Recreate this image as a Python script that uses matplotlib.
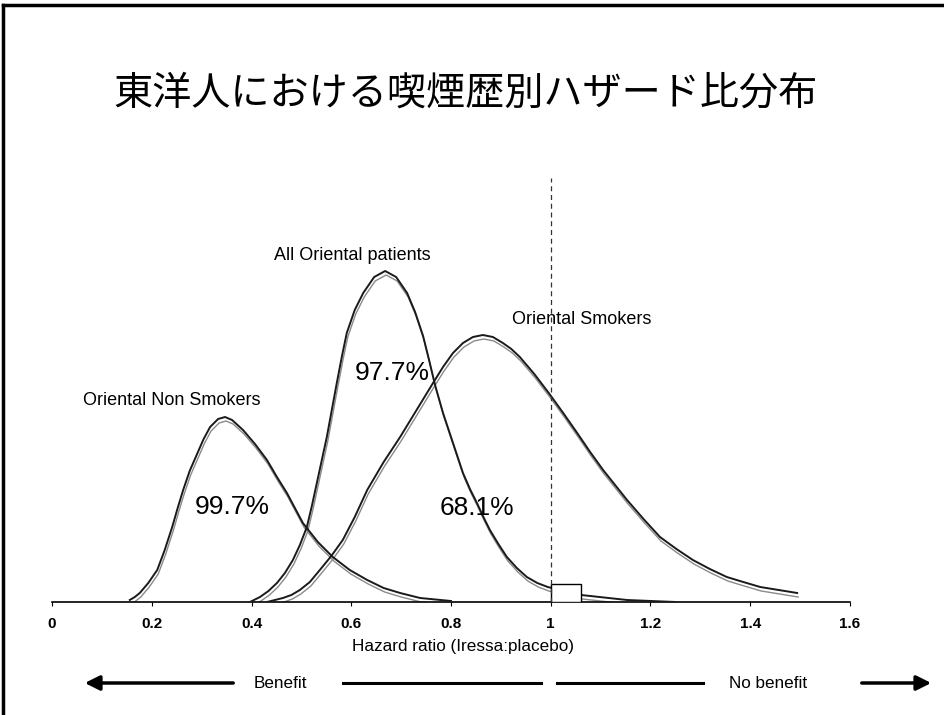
import matplotlib
matplotlib.use('Agg')
import matplotlib.pyplot as plt
import numpy as np
from matplotlib.transforms import offset_copy
from matplotlib.lines import Line2D
from matplotlib.patches import Rectangle

plt.rcParams['font.family'] = ['Liberation Sans', 'Noto Sans CJK JP', 'DejaVu Sans']

# data (x = hazard ratio, y = relative density)
non_x = [0.156, 0.166, 0.176, 0.193, 0.211, 0.226, 0.241, 0.252, 0.263, 0.276, 0.290,
         0.304, 0.317, 0.333, 0.347, 0.361, 0.383, 0.407, 0.431, 0.451, 0.471, 0.487,
         0.503, 0.533, 0.563, 0.597, 0.632, 0.665, 0.698, 0.738, 0.80]
non_y = [0.02, 0.05, 0.09, 0.19, 0.32, 0.52, 0.75, 0.94, 1.12, 1.31, 1.47,
         1.63, 1.75, 1.83, 1.85, 1.82, 1.72, 1.58, 1.42, 1.25, 1.09, 0.94,
         0.79, 0.60, 0.45, 0.32, 0.22, 0.14, 0.09, 0.04, 0.01]

all_x = [0.397, 0.417, 0.434, 0.451, 0.467, 0.483, 0.497, 0.511, 0.521, 0.531, 0.541,
         0.551, 0.561, 0.571, 0.581, 0.591, 0.607, 0.624, 0.646, 0.668, 0.690, 0.712,
         0.728, 0.744, 0.756, 0.768, 0.784, 0.804, 0.824, 0.838, 0.852, 0.865, 0.878,
         0.895, 0.912, 0.932, 0.952, 0.973, 0.994, 1.061, 1.153, 1.25]
all_y = [0.0, 0.05, 0.11, 0.19, 0.29, 0.42, 0.57, 0.75, 0.96, 1.19, 1.42,
         1.65, 1.92, 2.19, 2.45, 2.69, 2.92, 3.09, 3.25, 3.31, 3.25, 3.09,
         2.90, 2.66, 2.42, 2.17, 1.89, 1.59, 1.29, 1.13, 0.99, 0.85, 0.72,
         0.58, 0.45, 0.34, 0.25, 0.19, 0.15, 0.07, 0.02, 0.0]

smk_x = [0.431, 0.447, 0.463, 0.480, 0.497, 0.517, 0.537, 0.560, 0.583, 0.607, 0.632,
         0.665, 0.698, 0.731, 0.764, 0.784, 0.804, 0.824, 0.844, 0.864, 0.884, 0.904,
         0.921, 0.938, 0.967, 0.996, 1.025, 1.053, 1.079, 1.105, 1.129, 1.153, 1.186,
         1.219, 1.252, 1.285, 1.319, 1.353, 1.386, 1.420, 1.457, 1.494]
smk_y = [0.0, 0.02, 0.04, 0.07, 0.12, 0.20, 0.32, 0.46, 0.62, 0.85, 1.12,
         1.40, 1.65, 1.92, 2.19, 2.35, 2.49, 2.59, 2.65, 2.67, 2.65, 2.59,
         2.53, 2.45, 2.28, 2.09, 1.89, 1.69, 1.50, 1.32, 1.17, 1.02, 0.83,
         0.65, 0.53, 0.42, 0.33, 0.25, 0.20, 0.15, 0.12, 0.09]

tick_vals = [0, 0.2, 0.4, 0.6, 0.8, 1.0, 1.2, 1.4, 1.6]
tick_labels = ['0', '0.2', '0.4', '0.6', '0.8', '1', '1.2', '1.4', '1.6']

# small box right of HR = 1
box_x0, box_x1, box_h = 1.0, 1.061, 0.18

W, H = 945, 715
fig = plt.figure(figsize=(9.45, 7.15), dpi=100)
ax = fig.add_axes([52 / W, (H - 602) / H, 798 / W, 432 / H])
ax.set_xlim(0, 1.6)
ax.set_ylim(0, 4.32)

def px(x, y):
    return x / W, 1 - y / H

# double-line look: gray copy shifted a few pixels down
tr2 = offset_copy(ax.transData, fig=fig, x=1, y=-4, units='dots')
for xs, ys in [(non_x, non_y), (all_x, all_y), (smk_x, smk_y)]:
    ax.plot(xs, ys, color='#8a8a8a', lw=1.0, transform=tr2, zorder=2)
    ax.plot(xs, ys, color='#1a1a1a', lw=1.4, zorder=3)

ax.add_patch(Rectangle((box_x0, 0), box_x1 - box_x0, box_h, facecolor='white',
                       edgecolor='black', lw=1.0, zorder=4))
ax.plot([1, 1], [0, 4.24], color='#333333', lw=0.9, dashes=(4, 3), zorder=5)

for s in ['left', 'right', 'top']:
    ax.spines[s].set_visible(False)
ax.spines['bottom'].set_linewidth(1.2)
ax.set_yticks([])
ax.set_xticks(tick_vals)
ax.set_xticklabels(tick_labels, fontsize=11, fontweight='bold')
ax.tick_params(axis='x', length=3, width=0.8, pad=8)

# title and labels
fig.text(*px(465, 94), '東洋人における喫煙歴別ハザード比分布', fontsize=28.2,
         family=['Noto Sans CJK JP', 'DejaVu Sans'], ha='center', va='center')
fig.text(*px(352, 256), 'All Oriental patients', fontsize=13, ha='center', va='center')
fig.text(*px(582, 320), 'Oriental Smokers', fontsize=13, ha='center', va='center')
fig.text(*px(172, 400), 'Oriental Non Smokers', fontsize=13, ha='center', va='center')
fig.text(*px(392, 373), '97.7%', fontsize=19, ha='center', va='center')
fig.text(*px(232, 507), '99.7%', fontsize=19, ha='center', va='center')
fig.text(*px(477, 508), '68.1%', fontsize=19, ha='center', va='center')
fig.text(*px(463, 646), 'Hazard ratio (Iressa:placebo)', fontsize=12.3, ha='center', va='center')
fig.text(*px(280, 684), 'Benefit', fontsize=12.3, ha='center', va='center')
fig.text(*px(768, 684), 'No benefit', fontsize=12.3, ha='center', va='center')

# arrows and lines at the bottom
ax.annotate('', xy=(82, H - 683), xytext=(236, H - 683), xycoords='figure pixels',
            arrowprops=dict(arrowstyle='-|>', lw=2.5, color='black', mutation_scale=22))
ax.annotate('', xy=(934, H - 683), xytext=(859, H - 683), xycoords='figure pixels',
            arrowprops=dict(arrowstyle='-|>', lw=2.5, color='black', mutation_scale=22))
for x0, x1 in [(343, 541), (557, 703)]:
    fig.add_artist(Line2D([x0 / W, x1 / W], [1 - 683 / H, 1 - 683 / H],
                          transform=fig.transFigure, color='black', lw=2.2))

# slide frame (left and top edges)
fig.add_artist(Line2D([3 / W, 3 / W], [0, 1 - 5 / H], transform=fig.transFigure,
                      color='black', lw=2.5))
fig.add_artist(Line2D([3 / W, 1], [1 - 5 / H, 1 - 5 / H], transform=fig.transFigure,
                      color='black', lw=2.5))

fig.savefig('out.png', dpi=100)
